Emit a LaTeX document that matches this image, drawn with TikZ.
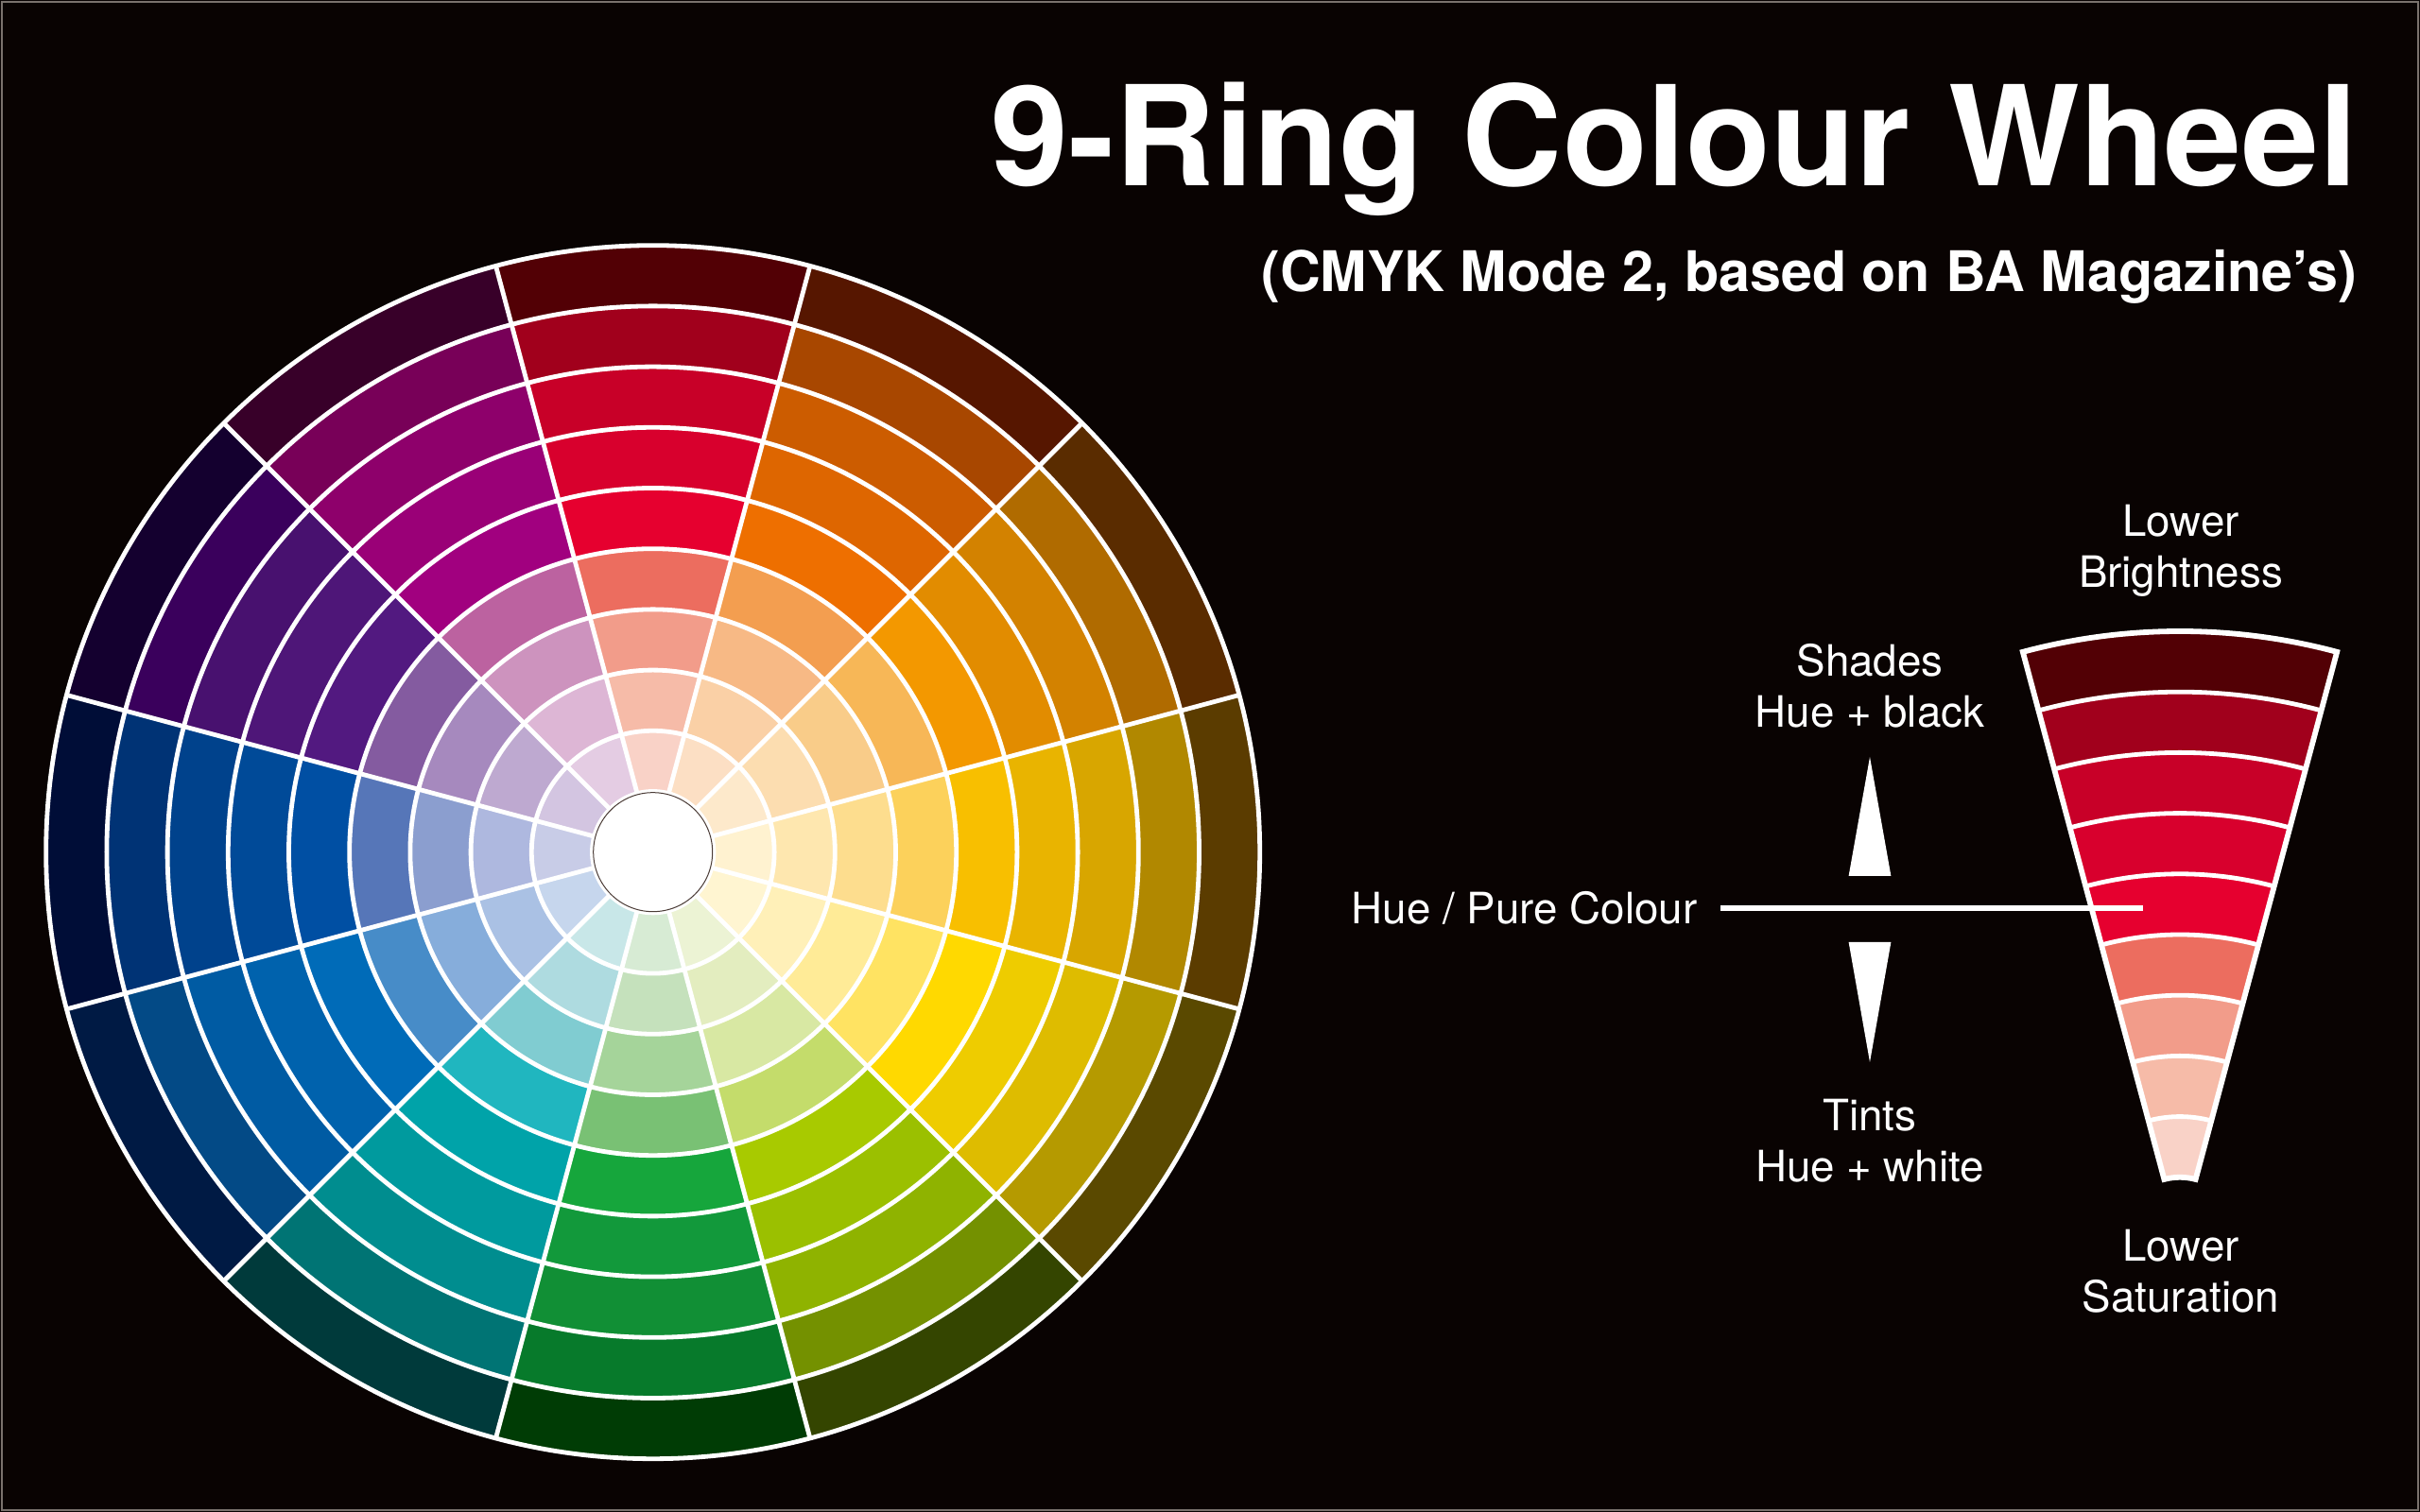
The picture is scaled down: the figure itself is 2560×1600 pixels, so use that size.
\documentclass[tikz,border=0pt]{standalone}
\usepackage{fontspec}
\setmainfont{TeX Gyre Heros}
\definecolor{sheet}{RGB}{9,3,2}
\definecolor{sheetedge}{RGB}{122,114,109}
\definecolor{hubedge}{RGB}{75,60,55}
\newcommand{\ringcell}[4]{%
  \definecolor{cellfill}{HTML}{#4}%
  \fill[cellfill] (#1-15:#2) arc[start angle=#1-15, end angle=#1+15, radius=#2]
    -- (#1+15:#3) arc[start angle=#1+15, end angle=#1-15, radius=#3] -- cycle;}
\tikzset{
  ringline/.style={white, line width=0.048cm},
  wedgeline/.style={white, line width=0.058cm, line join=miter},
  pureline/.style={white, line width=0.055cm},
  legendtext/.style={white, inner sep=0pt, align=center, font=\fontsize{13}{15.4}\selectfont},
  titletext/.style={white, inner sep=0pt, font=\fontsize{41.8}{50}\selectfont\bfseries},
  subtitletext/.style={white, inner sep=0pt, font=\fontsize{16.85}{20}\selectfont\bfseries}
}

\begin{document}
\begin{tikzpicture}[x=0.01cm,y=0.01cm]
\useasboundingbox (0,0) rectangle (2560,1600);
\fill[sheet] (0,0) rectangle (2560,1600);
\draw[sheetedge, line width=0.015cm] (2,2) rectangle (2558,1598);

\begin{scope}[shift={(690.7,698.3)}]
\foreach \ang/\hues in {
    90/{F9D2C7,F6BBA8,F29C8A,EC6D5F,E6002F,D8002D,C80028,A1001C,520005},
    60/{FCDFC4,FAD0A6,F7B985,F39E50,EE6F00,DE6600,CC5C00,A84700,561600},
    30/{FDE9CB,FCDDB0,F9CC89,F7B757,F39800,E28C00,D38200,B06B00,5A2C00},
    0/{FFF2D0,FEE7AF,FDDD8E,FCD15B,F8BF00,E9B400,D8A600,B18800,5B3C00},
    -30/{FFF5D1,FFF0B8,FFEB97,FFE362,FFD900,EECC00,DEBC00,B59A00,5A4900},
    -60/{ECF3D4,E3EDBF,D8E8A3,C4DC6B,A8CA00,9BC000,8FB300,749100,344500},
    -90/{D7EBD4,C5E1BC,A5D49A,79C174,16A63C,12993B,118F35,077A2B,003C05},
    -120/{C8E7E8,AEDBE0,80CCD1,20B6BF,00A3A9,009A9E,008D8F,007474,003A3B},
    -150/{C6D6ED,AAC1E4,86ADDB,478CC8,006BB8,0062AD,005BA3,034A86,001A44},
    180/{C8CCE7,AEB8DF,8B9ECF,5676B8,004FA3,004A98,00428C,003375,000D37},
    150/{D3C5E1,BEA9D0,A689BE,845BA0,521980,4E1678,48116F,3A005C,14002F},
    120/{E4CCE3,DDB6D5,CD93BE,BC62A0,A1007F,9A0077,8E006B,780058,380029}}
  \foreach \c [count=\k] in \hues {
    \pgfmathsetmacro{\rin}{\k*64.2}
    \pgfmathsetmacro{\rout}{\rin+64.2}
    \ringcell{\ang}{\rin}{\rout}{\c}
  }
\foreach \r in {64.2,128.4,192.6,256.8,321,385.2,449.4,513.6,577.8,642}
  \draw[ringline] (0,0) circle[radius=\r];
\foreach \a in {15,45,...,345}
  \draw[ringline] (\a:64.2) -- (\a:642);
\filldraw[fill=white, draw=hubedge, line width=0.01cm] (0,0) circle[radius=63];
\end{scope}

\begin{scope}[shift={(2306,290)}]
\foreach \c [count=\k] in {F9D2C7,F6BBA8,F29C8A,EC6D5F,E6002F,D8002D,C80028,A1001C,520005} {
  \pgfmathsetmacro{\rin}{\k*64.2}
  \pgfmathsetmacro{\rout}{\rin+64.2}
  \ringcell{90}{\rin}{\rout}{\c}
}
\foreach \r in {128.4,192.6,256.8,321,385.2,449.4,513.6,577.8}
  \draw[ringline] (75:\r) arc[start angle=75, end angle=105, radius=\r];
\draw[wedgeline] (75:64.2) arc[start angle=75, end angle=105, radius=64.2]
  -- (105:642) arc[start angle=105, end angle=75, radius=642] -- cycle;
\end{scope}
\coordinate (pure) at (2267,639);

\node[titletext, anchor=base east] (title) at (2495,1403) {9-Ring Colour Wheel};
\node[subtitletext, anchor=base east] (subtitle) at (2494,1291) {(CMYK Mode 2, based on BA Magazine’s)};

\node[legendtext] (lowbright) at (2307,1017) {Lower\\Brightness};
\node[legendtext] (shades) at (1978,874) {Shades\\Hue + black};
\node[legendtext] (tints) at (1978,393) {Tints\\Hue + white};
\node[legendtext] (lowsat) at (2307,255) {Lower\\Saturation};
\node[legendtext, anchor=east] (hue) at (1796,639) {Hue / Pure Colour};
\draw[pureline, shorten <=0.24cm] (hue.east) -- (hue.east -| pure);

\fill[white] (1978,799) -- (2000.4,673) -- (1955.6,673) -- cycle;
\fill[white] (1978,476) -- (2000.4,603) -- (1955.6,603) -- cycle;
\end{tikzpicture}
\end{document}
